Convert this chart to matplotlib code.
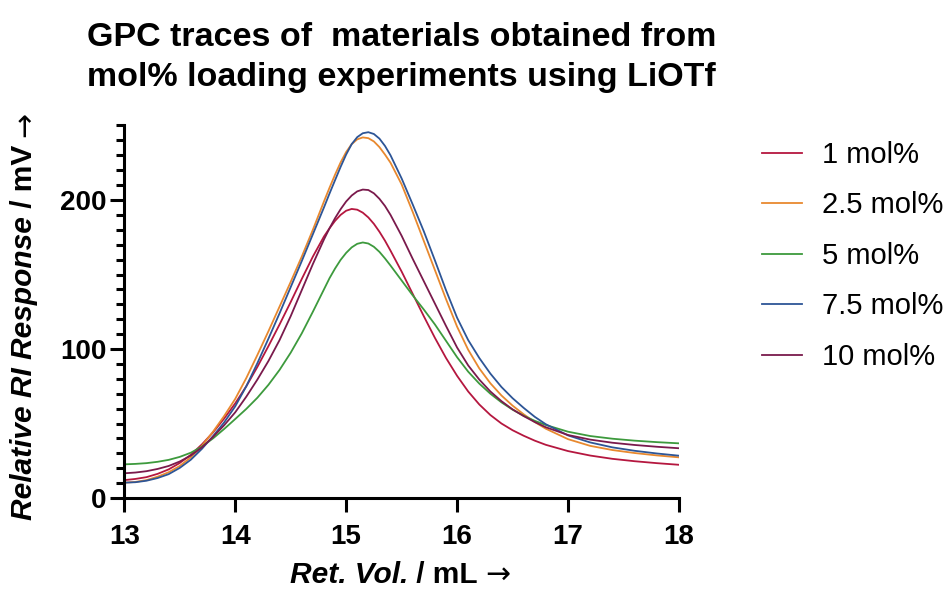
import matplotlib
matplotlib.use("Agg")
import matplotlib.pyplot as plt
from matplotlib.text import Annotation
from matplotlib.ticker import MultipleLocator, FixedLocator

FONT = ["Liberation Sans", "DejaVu Sans"]
plt.rcParams["font.family"] = FONT

# Retention volume grid (mL); denser around the peak maximum
ret_vol = [13.0, 13.1, 13.2, 13.3, 13.4, 13.5, 13.6, 13.7, 13.8, 13.9,
           14.0, 14.1, 14.2, 14.3, 14.4, 14.5, 14.6, 14.7, 14.8,
           14.85, 14.9, 14.95, 15.0, 15.05, 15.1, 15.15, 15.2, 15.25, 15.3,
           15.35, 15.4,
           15.5, 15.6, 15.7, 15.8, 15.9, 16.0, 16.1, 16.2, 16.3, 16.4,
           16.5, 16.6, 16.7, 16.8,
           17.0, 17.2, 17.4, 17.6, 17.8, 18.0]

# RI response (mV) for each LiOTf loading
ri_1 = [12, 12.8, 14, 16.2, 19.2, 23.5, 29, 36, 44, 53.3,
        63.5, 75, 88, 102, 116.5, 131.5, 147, 162, 175.5,
        181, 186, 190, 192.8, 194, 193.5, 191.5, 188.3, 184, 178.7,
        172.7, 166,
        152, 137, 122, 107.5, 94, 82, 71.5, 62.8, 55.7, 50,
        45.5, 41.8, 38.5, 35.7,
        31.5, 28.5, 26.3, 24.7, 23.4, 22.3]
ri_2_5 = [10.3, 10.8, 12, 14.3, 17.3, 21.5, 27.3, 35, 44.5, 55,
          66.5, 80.5, 96, 112, 128.5, 145, 162, 180, 199,
          208.2, 217, 225.2, 232.2, 237.5, 240.7, 242, 241.5, 239.3, 235.5,
          230.5, 225,
          210.5, 192, 172.5, 153, 133.5, 115, 99.5, 87, 77, 68.8,
          62, 56.2, 51, 46.5,
          39.5, 35, 32.2, 30.2, 28.6, 27.3]
ri_5 = [22.6, 22.9, 23.4, 24.3, 25.6, 27.6, 30.4, 34.5, 40, 46.3,
        53, 59.8, 67.3, 76, 86, 97.5, 110.5, 125, 140,
        147.5, 154, 159.8, 164.5, 168.2, 170.6, 171.5, 170.8, 168.6, 165.2,
        160.8, 156,
        146, 136, 126.5, 116.5, 105.5, 94.5, 84.8, 76.8, 70, 64.2,
        59.3, 55.2, 51.8, 49,
        44.5, 41.6, 39.8, 38.5, 37.5, 36.7]
ri_7_5 = [10.3, 10.6, 11.6, 13.4, 16, 20.2, 25.7, 33, 41.5, 50.7,
          61.5, 75, 90.5, 107, 124, 141.5, 159, 177, 195,
          204.3, 213.3, 222.2, 230.5, 237.5, 242.2, 244.8, 245.5, 244.3, 241.2,
          236.3, 230,
          214.5, 197, 179, 159.5, 139.5, 121, 106, 94, 83.5, 74.5,
          67, 60.5, 54.5, 49.5,
          42, 37.3, 34, 31.7, 29.9, 28.4]
ri_10 = [16.6, 17.1, 18, 19.5, 21.5, 24.5, 28.5, 34, 41, 48.8,
         57.5, 68, 79.5, 92, 106, 122, 139.5, 157, 173.5,
         181, 187.8, 193.8, 199, 203, 205.8, 207, 206.7, 204.5, 200.8,
         196, 190,
         176, 160.5, 145.5, 130.5, 115.5, 101, 89, 79.5, 71.5, 65,
         59.5, 55, 51, 47.5,
         42.3, 39.2, 37.1, 35.6, 34.4, 33.4]

labels = ["1 mol%", "2.5 mol%", "5 mol%", "7.5 mol%", "10 mol%"]
series = [ri_1, ri_2_5, ri_5, ri_7_5, ri_10]
colors = ["#B5173F", "#E8892F", "#3D9A3D", "#2D5596", "#7A1A4C"]

x_ticks = [13, 14, 15, 16, 17, 18]
y_ticks = [0, 100, 200]

fig = plt.figure(figsize=(9.5, 5.9), dpi=100)
ax = fig.add_axes([0.1308, 0.1559, 0.5839, 0.6314])

for y, c, lab in zip(series, colors, labels):
    ax.plot(ret_vol, y, color=c, lw=1.3, label=lab)

ax.set_xlim(13, 18)
ax.set_ylim(0, 250)
ax.xaxis.set_major_locator(FixedLocator(x_ticks))
ax.yaxis.set_major_locator(FixedLocator(y_ticks))
ax.yaxis.set_minor_locator(MultipleLocator(10))

for side in ("top", "right"):
    ax.spines[side].set_visible(False)
for side in ("left", "bottom"):
    ax.spines[side].set_linewidth(2.2)

ax.tick_params(axis="both", which="major", direction="out", length=10,
               width=2.2, labelsize=20, color="black")
ax.tick_params(axis="y", which="major", pad=3)
ax.tick_params(axis="y", which="minor", direction="out", length=5.5,
               width=2.2)
ax.tick_params(axis="x", which="major", pad=9)
for lbl in ax.get_xticklabels() + ax.get_yticklabels():
    lbl.set_fontweight("bold")

# Title
fig.text(0.4226, 0.903,
         "GPC traces of  materials obtained from\nmol% loading experiments using LiOTf",
         ha="center", va="center", fontsize=24.5, fontweight="bold",
         linespacing=1.36)

LABEL_SIZE = 21.5

# x-axis label: italic quantity, upright unit, thin arrow
tx = fig.text(0.3053, 0.012, "Ret. Vol.", fontsize=LABEL_SIZE,
              fontweight="bold", fontstyle="italic", ha="left", va="baseline")
tx_unit = Annotation(" / mL ", xy=(1, 0), xycoords=tx, ha="left",
                     va="bottom", fontsize=LABEL_SIZE, fontweight="bold")
fig.add_artist(tx_unit)
fig.add_artist(Annotation("\u2192", xy=(1, 0), xycoords=tx_unit, ha="left",
                          va="bottom", fontsize=LABEL_SIZE,
                          family="DejaVu Sans"))

# y-axis label: italic quantity, upright unit, thin arrow
ty = fig.text(0.0105, 0.1186, "Relative RI Response", fontsize=LABEL_SIZE,
              fontweight="bold", fontstyle="italic", rotation=90,
              ha="left", va="bottom")
ty_unit = Annotation(" / mV ", xy=(0, 1), xycoords=ty, ha="left",
                     va="bottom", rotation=90, fontsize=LABEL_SIZE,
                     fontweight="bold")
fig.add_artist(ty_unit)
fig.add_artist(Annotation("\u2192", xy=(0, 1), xycoords=ty_unit, ha="left",
                          va="bottom", rotation=90, fontsize=LABEL_SIZE,
                          family="DejaVu Sans"))

ax.legend(loc="upper left", bbox_to_anchor=(0.802, 0.761),
          bbox_transform=fig.transFigure, frameon=False, fontsize=21,
          handlelength=1.37, handletextpad=0.7, labelspacing=0.77,
          borderpad=0, borderaxespad=0)

fig.savefig("out.png", dpi=100)
